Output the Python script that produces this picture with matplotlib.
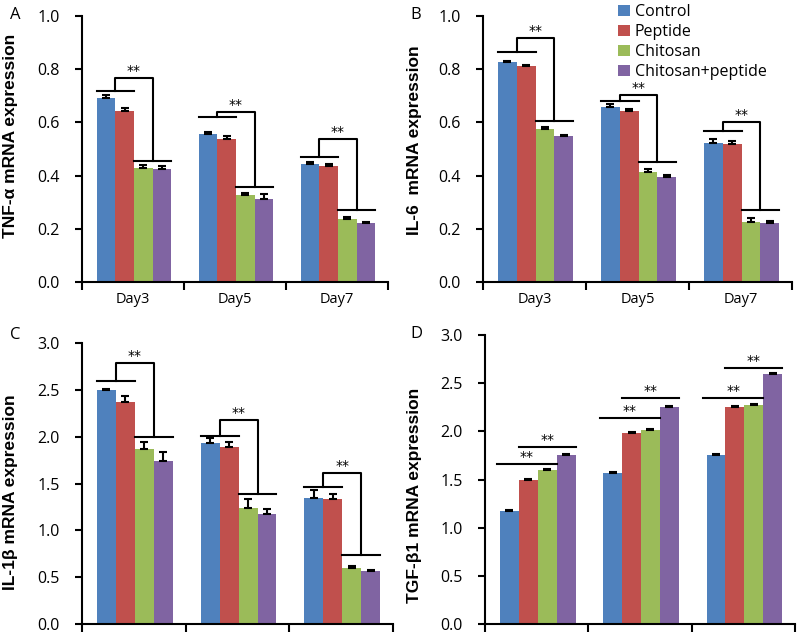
import numpy as np
import matplotlib.pyplot as plt
from matplotlib.patches import Patch

days = ['Day3', 'Day5', 'Day7']
groups = ['Control', 'Peptide', 'Chitosan', 'Chitosan+peptide']
colors = ['#4F81BD', '#C0504D', '#9BBB59', '#8064A2']

# rows = groups, columns = days
tnf_mean = [[0.693, 0.555, 0.443], [0.642, 0.538, 0.435],
            [0.430, 0.326, 0.238], [0.424, 0.312, 0.221]]
tnf_err = [[0.011, 0.010, 0.007], [0.014, 0.009, 0.007],
           [0.009, 0.009, 0.005], [0.011, 0.017, 0.003]]

il6_mean = [[0.826, 0.659, 0.524], [0.813, 0.642, 0.518],
            [0.577, 0.412, 0.226], [0.550, 0.395, 0.220]]
il6_err = [[0.004, 0.010, 0.012], [0.003, 0.009, 0.011],
           [0.004, 0.011, 0.015], [0.003, 0.008, 0.008]]

il1_mean = [[2.501, 1.934, 1.350], [2.366, 1.885, 1.336],
            [1.870, 1.240, 0.595], [1.739, 1.176, 0.566]]
il1_err = [[0.010, 0.047, 0.082], [0.064, 0.060, 0.057],
           [0.075, 0.092, 0.025], [0.099, 0.050, 0.011]]

tgf_mean = [[1.173, 1.564, 1.751], [1.498, 1.986, 2.256],
            [1.602, 2.010, 2.273], [1.751, 2.253, 2.592]]
tgf_err = [[0.010, 0.010, 0.010], [0.010, 0.010, 0.010],
           [0.012, 0.012, 0.010], [0.010, 0.010, 0.010]]

# significance bracket levels (control/peptide line, bracket top, chitosan line)
tnf_sig = [[0.719, 0.619, 0.470], [0.768, 0.639, 0.536], [0.455, 0.358, 0.270]]
il6_sig = [[0.866, 0.680, 0.567], [0.916, 0.703, 0.600], [0.606, 0.452, 0.270]]
il1_sig = [[2.597, 2.009, 1.461], [2.786, 2.180, 1.610], [1.995, 1.389, 0.737]]
# TGF lines: control->chitosan, peptide->chitosan+peptide
tgf_sig = [[1.657, 2.142, 2.343], [1.841, 2.343, 2.661]]

W = 0.183
CEN = 0.51
TICK_FONT = 'Open Sans'


def bar_x(d, g):
    return d + CEN + (g - 1.5) * W


def draw_panel(rect, mean, err, ylim, step, ylabel, label_xy, letter, letter_xy, show_days):
    ax = fig.add_axes(rect)
    x = np.arange(len(days))
    for g in range(len(groups)):
        xs = x + CEN + (g - 1.5) * W
        ax.bar(xs, mean[g], width=W, color=colors[g], edgecolor='none', zorder=2)
        ax.errorbar(xs, mean[g], yerr=[np.zeros(len(days)), err[g]], fmt='none',
                    ecolor='black', elinewidth=1.5, capsize=3, capthick=1.5, zorder=3)
    ax.set_xlim(0, 3)
    ax.set_ylim(*ylim)
    ax.set_yticks(np.arange(ylim[0], ylim[1] + step / 2, step))
    ax.yaxis.set_major_formatter(plt.FormatStrFormatter('%.1f'))
    ax.set_xticks([0, 1, 2, 3])
    ax.set_xticklabels([])
    ax.set_xticks([0.5, 1.5, 2.5], minor=True)
    if show_days:
        ax.set_xticklabels(days, minor=True, family=TICK_FONT, fontsize=10.5)
    ax.tick_params(axis='x', which='minor', length=0, pad=7)
    ax.tick_params(axis='x', which='major', direction='out', length=6, width=1.5)
    ax.tick_params(axis='y', direction='out', length=5, width=1.5, labelsize=11.5, pad=11)
    for t in ax.get_yticklabels():
        t.set_family(TICK_FONT)
    for s in ['top', 'right']:
        ax.spines[s].set_visible(False)
    for s in ['left', 'bottom']:
        ax.spines[s].set_linewidth(1.5)
    ax.set_ylabel(ylabel, fontsize=12.5, fontweight='bold', family='Liberation Sans')
    ax.yaxis.set_label_coords(*label_xy)
    fig.text(letter_xy[0], letter_xy[1], letter, fontsize=12, va='top', ha='left',
             family=TICK_FONT)
    return ax


def brackets(ax, sig):
    low, top, high = sig
    for d in range(len(days)):
        l0, l1 = bar_x(d, 0) - W / 2, bar_x(d, 1) + W / 2
        r0, r1 = bar_x(d, 2) - W / 2, bar_x(d, 3) + W / 2
        kw = dict(color='black', lw=1.5, zorder=4)
        ax.plot([l0, l1], [low[d], low[d]], **kw)
        ax.plot([r0, r1], [high[d], high[d]], **kw)
        lm, rm = (l0 + l1) / 2, (r0 + r1) / 2
        ax.plot([lm, lm, rm, rm], [low[d], top[d], top[d], high[d]], **kw)
        ax.text((lm + rm) / 2, top[d], '**', ha='center', va='bottom', fontsize=10)


def lines_tgf(ax, sig):
    a, b = sig
    kw = dict(color='black', lw=1.5, zorder=4)
    for d in range(len(days)):
        x0, x1 = bar_x(d, 0) - W / 2 - 0.03, bar_x(d, 2) + W / 2
        ax.plot([x0, x1], [a[d], a[d]], **kw)
        ax.text((x0 + x1) / 2, a[d], '**', ha='center', va='bottom', fontsize=10)
        x0, x1 = bar_x(d, 1) - W / 2, bar_x(d, 3) + W / 2
        ax.plot([x0, x1], [b[d], b[d]], **kw)
        ax.text((x0 + x1) / 2, b[d], '**', ha='center', va='bottom', fontsize=10)


fig = plt.figure(figsize=(8, 6.42), dpi=100)
H = 642.0

ax_a = draw_panel([82 / 800, 1 - 282 / H, 306 / 800, 266 / H], tnf_mean, tnf_err, (0, 1.0), 0.2,
                  'TNF-\u03b1 mRNA expression', (-0.209, 0.55), 'A', (10 / 800, 1 - 7 / H), True)
brackets(ax_a, tnf_sig)

ax_b = draw_panel([483 / 800, 1 - 282 / H, 309 / 800, 266 / H], il6_mean, il6_err, (0, 1.0), 0.2,
                  'IL-6  mRNA expression', (-0.197, 0.534), 'B', (410 / 800, 1 - 7 / H), True)
brackets(ax_b, il6_sig)

ax_c = draw_panel([82 / 800, 1 - 624 / H, 311 / 800, 281 / H], il1_mean, il1_err, (0, 3.0), 0.5,
                  'IL-1\u03b2 mRNA expression', (-0.207, 0.47), 'C', (10 / 800, 1 - 327 / H), False)
brackets(ax_c, il1_sig)

ax_d = draw_panel([485 / 800, 1 - 624 / H, 310 / 800, 289 / H], tgf_mean, tgf_err, (0, 3.0), 0.5,
                  'TGF-\u03b21 mRNA expression', (-0.203, 0.446), 'D', (410 / 800, 1 - 326 / H), False)
lines_tgf(ax_d, tgf_sig)

handles = [Patch(facecolor=c, edgecolor='none') for c in colors]
fig.legend(handles, groups, loc='upper left', bbox_to_anchor=(618 / 800, 1 - 4 / H),
           frameon=False, prop={'family': TICK_FONT, 'size': 11.5},
           handlelength=0.75, handleheight=0.75, handletextpad=0.3, labelspacing=0.25,
           borderaxespad=0, borderpad=0)

fig.savefig('out.png', dpi=100)
